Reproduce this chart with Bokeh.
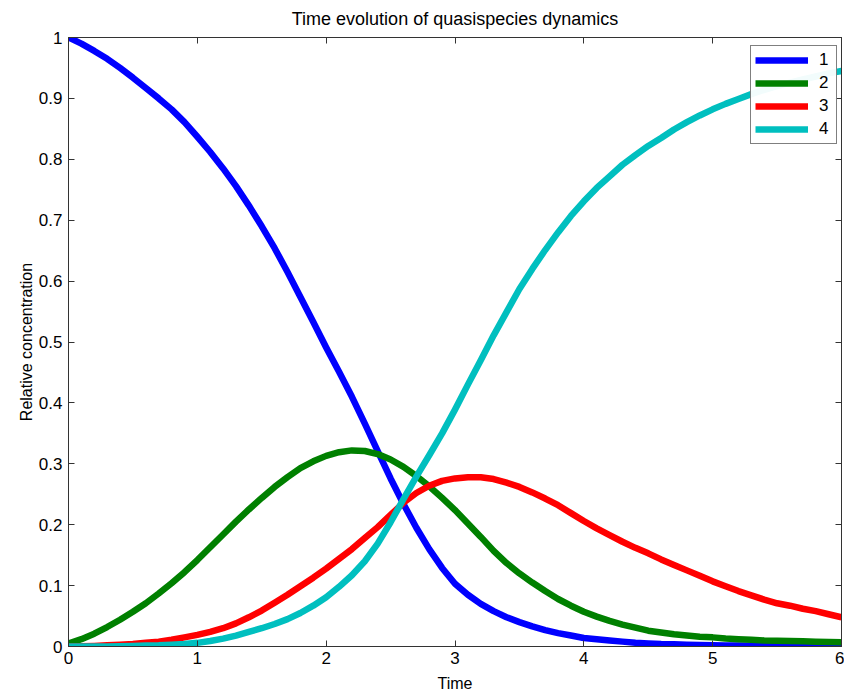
from bokeh.plotting import figure
from bokeh.models import Range1d, LinearAxis, FixedTicker, Legend, LegendItem
from bokeh.embed import file_html
from bokeh.resources import INLINE

# ---- data ----
time = [round(0.1 * i, 1) for i in range(61)]
species1 = [1.000, 0.990, 0.978, 0.965, 0.950, 0.934, 0.917, 0.900, 0.882, 0.861,
            0.837, 0.812, 0.785, 0.756, 0.724, 0.690, 0.654, 0.615, 0.574, 0.533,
            0.491, 0.451, 0.410, 0.366, 0.321, 0.276, 0.234, 0.195, 0.160, 0.129,
            0.103, 0.085, 0.070, 0.058, 0.048, 0.040, 0.033, 0.027, 0.022, 0.018,
            0.014, 0.012, 0.010, 0.008, 0.006, 0.005, 0.004, 0.0035, 0.003, 0.0025,
            0.002, 0.0018, 0.0015, 0.0013, 0.0011, 0.001, 0.0009, 0.0008, 0.0007, 0.0006,
            0.0005]
species2 = [0.005, 0.012, 0.021, 0.032, 0.044, 0.057, 0.071, 0.087, 0.104, 0.122,
            0.142, 0.163, 0.184, 0.205, 0.225, 0.244, 0.262, 0.278, 0.293, 0.304,
            0.313, 0.319, 0.322, 0.321, 0.316, 0.307, 0.295, 0.280, 0.263, 0.244,
            0.224, 0.202, 0.180, 0.157, 0.137, 0.120, 0.105, 0.091, 0.078, 0.067,
            0.057, 0.049, 0.042, 0.036, 0.031, 0.026, 0.023, 0.020, 0.018, 0.016,
            0.015, 0.013, 0.012, 0.011, 0.010, 0.0095, 0.009, 0.0085, 0.008, 0.0075,
            0.007]
species3 = [0.000, 0.0003, 0.001, 0.002, 0.003, 0.004, 0.006, 0.008, 0.011, 0.015,
            0.019, 0.024, 0.030, 0.038, 0.048, 0.059, 0.072, 0.085, 0.099, 0.113,
            0.128, 0.144, 0.160, 0.178, 0.196, 0.216, 0.236, 0.252, 0.264, 0.272,
            0.276, 0.278, 0.278, 0.275, 0.269, 0.262, 0.253, 0.243, 0.232, 0.219,
            0.206, 0.194, 0.183, 0.172, 0.162, 0.153, 0.143, 0.134, 0.125, 0.116,
            0.107, 0.099, 0.091, 0.084, 0.077, 0.071, 0.067, 0.062, 0.058, 0.053,
            0.048]
species4 = [0.000, 0.000, 0.000, 0.000, 0.0005, 0.001, 0.0015, 0.002, 0.003, 0.004,
            0.006, 0.009, 0.013, 0.018, 0.024, 0.030, 0.037, 0.045, 0.055, 0.067,
            0.081, 0.098, 0.117, 0.140, 0.169, 0.204, 0.242, 0.279, 0.314, 0.350,
            0.389, 0.430, 0.470, 0.511, 0.549, 0.587, 0.620, 0.651, 0.680, 0.707,
            0.731, 0.753, 0.772, 0.791, 0.807, 0.822, 0.835, 0.849, 0.861, 0.872,
            0.882, 0.891, 0.899, 0.907, 0.914, 0.920, 0.926, 0.931, 0.936, 0.941,
            0.945]
series = [("1", species1, "#0000FF"), ("2", species2, "#008000"),
          ("3", species3, "#FF0000"), ("4", species4, "#00BFBF")]
x_ticks = [0, 1, 2, 3, 4, 5, 6]
y_ticks = [0, 0.1, 0.2, 0.3, 0.4, 0.5, 0.6, 0.7, 0.8, 0.9, 1]
y_tick_labels = ["0", "0.1", "0.2", "0.3", "0.4", "0.5", "0.6", "0.7", "0.8", "0.9", "1"]
title_text = "Time evolution of quasispecies dynamics"

FONT = "Liberation Sans"
AXC = "#333333"
W, H = 844, 694
FL, FT, FR, FB = 68, 37, 3, 47   # frame borders

p = figure(width=W, height=H, x_range=Range1d(0, 6), y_range=Range1d(0, 1),
           output_backend="svg", toolbar_location=None,
           min_border_left=FL, min_border_right=FR, min_border_top=FT, min_border_bottom=FB,
           title=title_text)
p.title.text_font = FONT
p.title.text_font_size = "18px"
p.title.text_font_style = "normal"
p.title.text_color = "black"
p.title.align = "center"
p.title.vertical_align = "top"
p.title.standoff = 13
p.grid.visible = False
p.outline_line_color = AXC
p.background_fill_color = "white"
p.border_fill_color = "white"

items = []
for name, ys, col in series:
    r = p.line(time, ys, line_color=col, line_width=6.5, line_join="round")
    items.append(LegendItem(label=name, renderers=[r]))

def style_axis(ax, show_labels=True):
    ax.axis_line_color = AXC
    ax.major_tick_line_color = AXC
    ax.major_tick_in = 6
    ax.major_tick_out = 0
    ax.minor_tick_line_color = None
    ax.major_label_text_font = FONT
    ax.major_label_text_color = "black"
    ax.axis_label_text_font = FONT
    ax.axis_label_text_font_size = "16px"
    ax.axis_label_text_font_style = "normal"
    ax.axis_label_text_color = "black"
    if show_labels:
        ax.major_label_text_font_size = "17px"
    else:
        ax.major_label_text_font_size = "1px"
        ax.major_label_text_color = None
        ax.major_label_standoff = 0

xa = p.xaxis[0]
xa.ticker = FixedTicker(ticks=x_ticks)
xa.axis_label = "Time"
xa.axis_label_standoff = 8
xa.major_label_standoff = 5
style_axis(xa)

ya = p.yaxis[0]
ya.ticker = FixedTicker(ticks=y_ticks)
ya.major_label_overrides = {t: s for t, s in zip(y_ticks, y_tick_labels)}
ya.axis_label = "Relative concentration"
ya.axis_label_standoff = 1
ya.major_label_standoff = 6
style_axis(ya)

top = LinearAxis(ticker=FixedTicker(ticks=x_ticks))
style_axis(top, False)
p.add_layout(top, "above")
right = LinearAxis(ticker=FixedTicker(ticks=y_ticks))
style_axis(right, False)
p.add_layout(right, "right")

# legend box anchored near the top right corner of the frame
legend = Legend(items=items, location=(750 - FL, (H - FB) - 145))
legend.border_line_color = "black"
legend.border_line_width = 1
legend.label_text_font = FONT
legend.label_text_font_size = "17px"
legend.label_text_color = "black"
legend.glyph_width = 53
legend.glyph_height = 20
legend.label_height = 20
legend.label_width = 13
legend.spacing = 3
legend.padding = 4
legend.label_standoff = 11
legend.margin = 0
p.add_layout(legend)

open("out.html", "w").write(file_html(p, INLINE))
